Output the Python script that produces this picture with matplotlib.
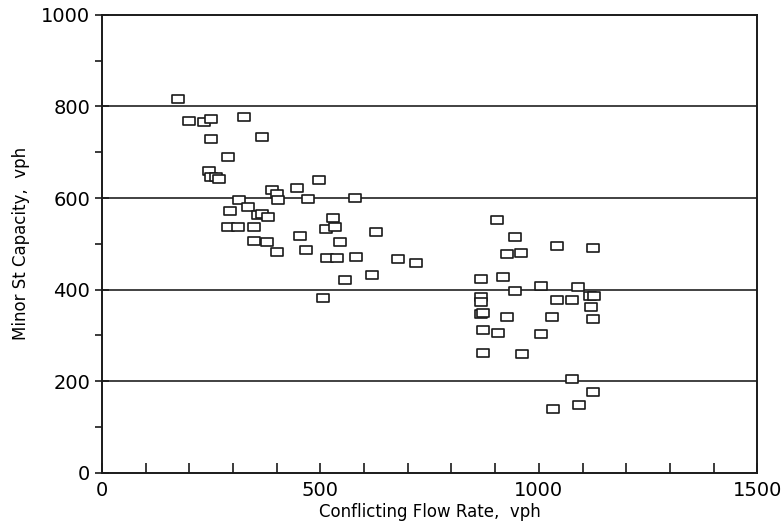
import numpy as np
import matplotlib
matplotlib.use("Agg")
import matplotlib.pyplot as plt
from matplotlib.path import Path
from matplotlib.ticker import MultipleLocator

# conflicting flow rate (vph) and minor street capacity (vph)
flow = [175, 200, 233, 250, 326, 249, 366, 289, 245, 249, 261, 269,
        389, 401, 404, 447, 497, 472, 579, 314, 292, 335, 357, 366, 381,
        289, 311, 349, 349, 377, 400, 453, 466, 528, 512, 534, 545, 627,
        515, 538, 582, 677, 718, 618, 557, 507,
        905, 946, 1041, 1125, 927, 959, 867, 919, 946, 1004, 1089, 1042,
        1076, 1117, 1127, 867, 867, 867, 872, 927, 1031, 1119, 1124,
        873, 906, 1005, 873, 962, 1076, 1125, 1092, 1033]
capacity = [816, 769, 767, 773, 778, 730, 734, 690, 659, 646, 646, 641,
            618, 609, 596, 621, 640, 598, 600, 595, 572, 580, 562, 565, 558,
            536, 536, 536, 507, 504, 482, 517, 487, 557, 533, 536, 503, 526,
            470, 469, 471, 468, 458, 433, 421, 381,
            552, 516, 496, 492, 478, 479, 424, 427, 398, 408, 405, 378,
            378, 386, 386, 385, 373, 347, 350, 340, 340, 362, 336,
            312, 306, 303, 261, 260, 205, 177, 148, 139]

grid_levels = [200, 400, 600, 800]

# open rectangle marker, a bit wider than tall like the plotter squares
rect = Path([(-1.3, -1), (1.3, -1), (1.3, 1), (-1.3, 1), (-1.3, -1)],
            [Path.MOVETO, Path.LINETO, Path.LINETO, Path.LINETO, Path.CLOSEPOLY])

ink = "#1a1a1a"

fig = plt.figure(figsize=(7.84, 5.29), dpi=100)
ax = fig.add_axes([0.130, 0.106, 0.836, 0.866])

for g in grid_levels:
    ax.axhline(g, color="#333333", lw=1.3, zorder=1)

ax.scatter(flow, capacity, marker=rect, s=70, facecolors="white",
           edgecolors=ink, linewidths=1.2, zorder=3)

ax.set_xlim(0, 1500)
ax.set_ylim(0, 1000)
ax.set_xticks([0, 500, 1000, 1500])
ax.set_yticks([0, 200, 400, 600, 800, 1000])
ax.xaxis.set_minor_locator(MultipleLocator(100))
ax.yaxis.set_minor_locator(MultipleLocator(100))

ax.tick_params(axis="x", which="both", direction="in", length=7, width=1.2,
               color=ink, labelsize=14, pad=6, top=False)
ax.tick_params(axis="y", which="major", direction="inout", length=10, width=1.2,
               color=ink, labelsize=14, right=False)
ax.tick_params(axis="y", which="minor", direction="out", length=5, width=1.2,
               color=ink, right=False)

for sp in ax.spines.values():
    sp.set_color(ink)
    sp.set_linewidth(1.4)

ax.set_xlabel("Conflicting Flow Rate,  vph", fontsize=12, labelpad=2)
ax.set_ylabel("Minor St Capacity,  vph", fontsize=12, labelpad=8)

fig.savefig("out.png", dpi=100)
